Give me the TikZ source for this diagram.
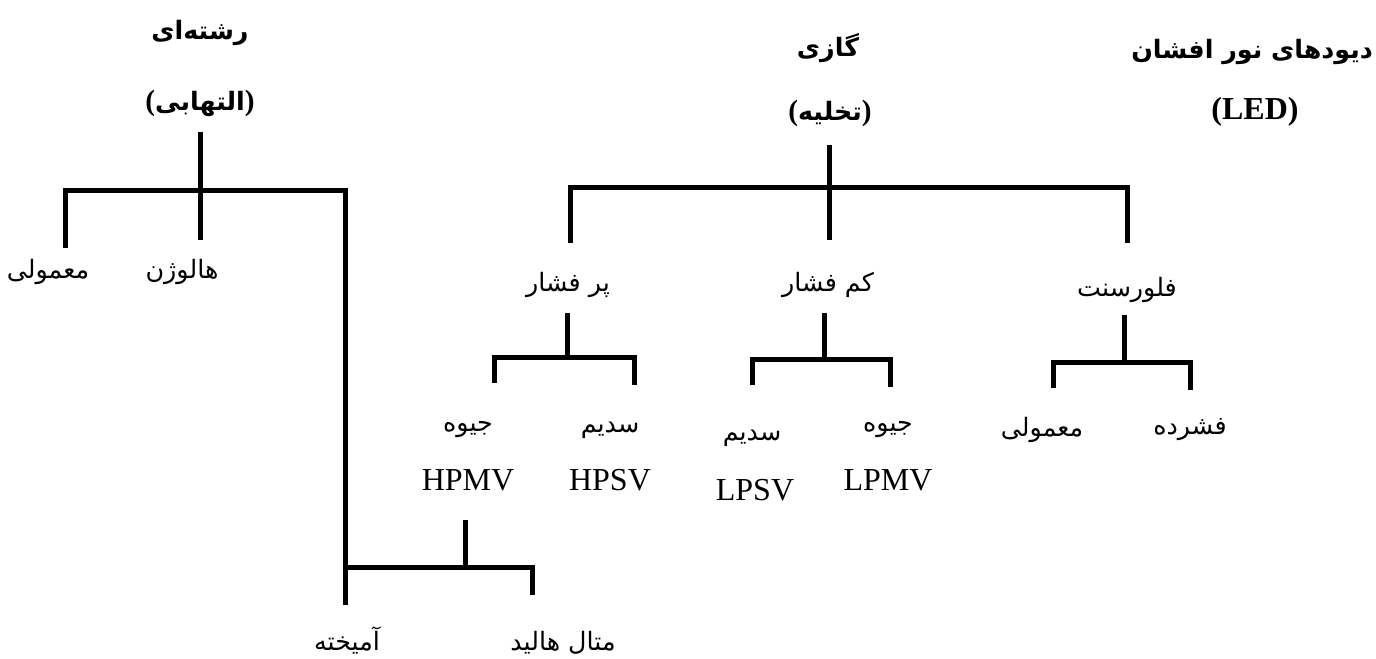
\documentclass[tikz,border=0pt]{standalone}
\usepackage{fontspec}
\setmainfont{Liberation Serif}
\newfontfamily\arabicfont[Script=Arabic]{DejaVu Sans}
\TeXXeTstate=1
\newcommand{\fa}[1]{{\arabicfont\beginR #1\endR}}
\begin{document}
\begin{tikzpicture}[x=0.75pt,y=-0.75pt,
  lbl/.style={inner sep=0pt,font=\fontsize{19}{22}\selectfont},
  ttl/.style={inner sep=0pt,font=\fontsize{19}{22}\selectfont\bfseries},
  lat/.style={inner sep=0pt,font=\fontsize{24}{28}\selectfont},
  br/.style={line width=3.75pt}]
\useasboundingbox (0,0) rectangle (1376,659);
% titles
\node[ttl] (t1a) at (200,33) {\fa{رشته‌ای}};
\node[ttl] (t1b) at (200,103) {{\fontsize{22}{26}\selectfont(}\fa{التهابی}{\fontsize{22}{26}\selectfont)}};
\node[ttl] (t2a) at (828,48) {\fa{گازی}};
\node[ttl] (t2b) at (830,113) {{\fontsize{22}{26}\selectfont(}\fa{تخلیه}{\fontsize{22}{26}\selectfont)}};
\node[ttl] (t3a) at (1252,52) {\fa{دیودهای نور افشان}};
\node[lat,font=\fontsize{24}{28}\selectfont\bfseries] (t3b) at (1255,112) {(LED)};
% left tree labels
\node[lbl] (m1) at (48,272) {\fa{معمولی}};
\node[lbl] (hal) at (182,272) {\fa{هالوژن}};
\node[lbl] (ami) at (347,640) {\fa{آمیخته}};
\node[lbl] (met) at (563,643) {\fa{متال هالید}};
% middle tree labels
\node[lbl] (por) at (568,285) {\fa{پر فشار}};
\node[lbl] (kam) at (828,285) {\fa{کم فشار}};
\node[lbl] (flo) at (1127,290) {\fa{فلورسنت}};
\node[lbl] (j1) at (468,430) {\fa{جیوه}};
\node[lat] (hpmv) at (468,480) {HPMV};
\node[lbl] (s1) at (610,430) {\fa{سدیم}};
\node[lat] (hpsv) at (610,480) {HPSV};
\node[lbl] (s2) at (752,438) {\fa{سدیم}};
\node[lat] (lpsv) at (755,490) {LPSV};
\node[lbl] (j2) at (888,430) {\fa{جیوه}};
\node[lat] (lpmv) at (888,480) {LPMV};
\node[lbl] (m2) at (1042,430) {\fa{معمولی}};
\node[lbl] (fas) at (1190,430) {\fa{فشرده}};
% junction coordinates
\coordinate (a0) at (200,132); \coordinate (a1) at (200,240);
\coordinate (a2) at (65,248); \coordinate (a3) at (65,191);
\coordinate (a4) at (345,191); \coordinate (a5) at (345,605);
\coordinate (b0) at (465,520); \coordinate (b1) at (465,567);
\coordinate (b2) at (345,567); \coordinate (b3) at (532,567); \coordinate (b4) at (532,595);
\coordinate (c0) at (829,145); \coordinate (c1) at (829,240);
\coordinate (c2) at (570,243); \coordinate (c3) at (570,188);
\coordinate (c4) at (1127,188); \coordinate (c5) at (1127,243);
\coordinate (d0) at (567,313); \coordinate (d1) at (567,357);
\coordinate (d2) at (494,383); \coordinate (d3) at (494,357);
\coordinate (d4) at (634,357); \coordinate (d5) at (634,385);
\coordinate (e0) at (824,313); \coordinate (e1) at (824,359);
\coordinate (e2) at (752,385); \coordinate (e3) at (752,359);
\coordinate (e4) at (890,359); \coordinate (e5) at (890,387);
\coordinate (f0) at (1124,315); \coordinate (f1) at (1124,362);
\coordinate (f2) at (1053,388); \coordinate (f3) at (1053,362);
\coordinate (f4) at (1190,362); \coordinate (f5) at (1190,390);
% brackets
\draw[br] (a2) -- (a3) -- (a4) -- (a5);
\draw[br] (a0) -- (a1);
\draw[br] (b2) -- (b3) -- (b4);
\draw[br] (b0) -- (b1);
\draw[br] (c2) -- (c3) -- (c4) -- (c5);
\draw[br] (c0) -- (c1);
\draw[br] (d2) -- (d3) -- (d4) -- (d5);
\draw[br] (d0) -- (d1);
\draw[br] (e2) -- (e3) -- (e4) -- (e5);
\draw[br] (e0) -- (e1);
\draw[br] (f2) -- (f3) -- (f4) -- (f5);
\draw[br] (f0) -- (f1);
\end{tikzpicture}
\end{document}
